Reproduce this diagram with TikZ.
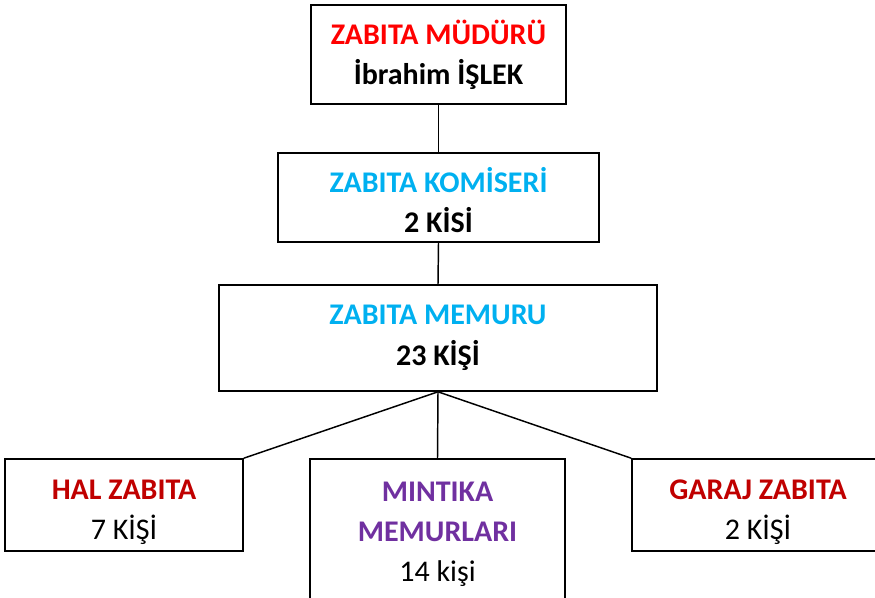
\documentclass[tikz,border=0pt]{standalone}
\usepackage{fontspec}
\setmainfont{Carlito}
\usepackage[dvipsnames]{xcolor}
\definecolor{mudurRed}{RGB}{255,0,0}
\definecolor{zabitaCyan}{RGB}{0,176,240}
\definecolor{halRed}{RGB}{192,0,0}
\definecolor{mintikaPurple}{RGB}{112,48,160}

\tikzset{
    unitbox/.style={draw, line width=1.2pt, rectangle, inner sep=0pt, align=center, font=\fontsize{22.5}{30}\selectfont},
    link/.style={line width=1.1pt}
}

\begin{document}
\begin{tikzpicture}[x=0.75pt,y=0.75pt,yscale=-1,xscale=1]
    \useasboundingbox (0,0) rectangle (875,598);
    \clip (0,0) rectangle (875,598);

    %Shape: Rectangle [id:mudur]
    \node [unitbox, minimum width=255*0.75pt, minimum height=99*0.75pt] (mudur) at (438.5,54.5)
        {\textbf{\color{mudurRed}ZABITA MÜDÜRÜ}\\\textbf{İbrahim İŞLEK}};
    %Shape: Rectangle [id:komiser]
    \node [unitbox, minimum width=321*0.75pt, minimum height=89*0.75pt] (komiser) at (438.5,197.5)
        {\rule{0pt}{22.5pt}\textbf{\color{zabitaCyan}ZABITA KOMİSERİ}\\\textbf{2 KİSİ}};
    %Shape: Rectangle [id:memur]
    \node [unitbox, minimum width=438*0.75pt, minimum height=106*0.75pt] (memur) at (438,338)
        {\textbf{\color{zabitaCyan}ZABITA MEMURU}\\[1pt]\textbf{23 KİŞİ}};

    %Shape: Rectangle [id:hal]
    \node [unitbox, minimum width=238*0.75pt, minimum height=92*0.75pt] (hal) at (124,505)
        {\rule{0pt}{25pt}\textbf{\color{halRed}HAL ZABITA}\\7 KİŞİ};
    %Shape: Rectangle [id:mintika]
    \node [unitbox, minimum width=255*0.75pt, minimum height=150*0.75pt] (mintika) at (437.5,534)
        {\textbf{\color{mintikaPurple}MINTIKA}\\\textbf{\color{mintikaPurple}MEMURLARI}\\14 kişi};
    %Shape: Rectangle [id:garaj]
    \node [unitbox, minimum width=252*0.75pt, minimum height=92*0.75pt] (garaj) at (758,505)
        {\rule{0pt}{25pt}\textbf{\color{halRed}GARAJ ZABITA}\\2 KİŞİ};

    %Straight Lines
    \draw [link] (mudur.south) -- (komiser.north);
    \draw [link] (komiser.south) -- (memur.north);
    \draw [link] (memur.south) -- (hal.north east);
    \draw [link] (memur.south) -- (mintika.north);
    \draw [link] (memur.south) -- (garaj.north west);

\end{tikzpicture}
\end{document}
